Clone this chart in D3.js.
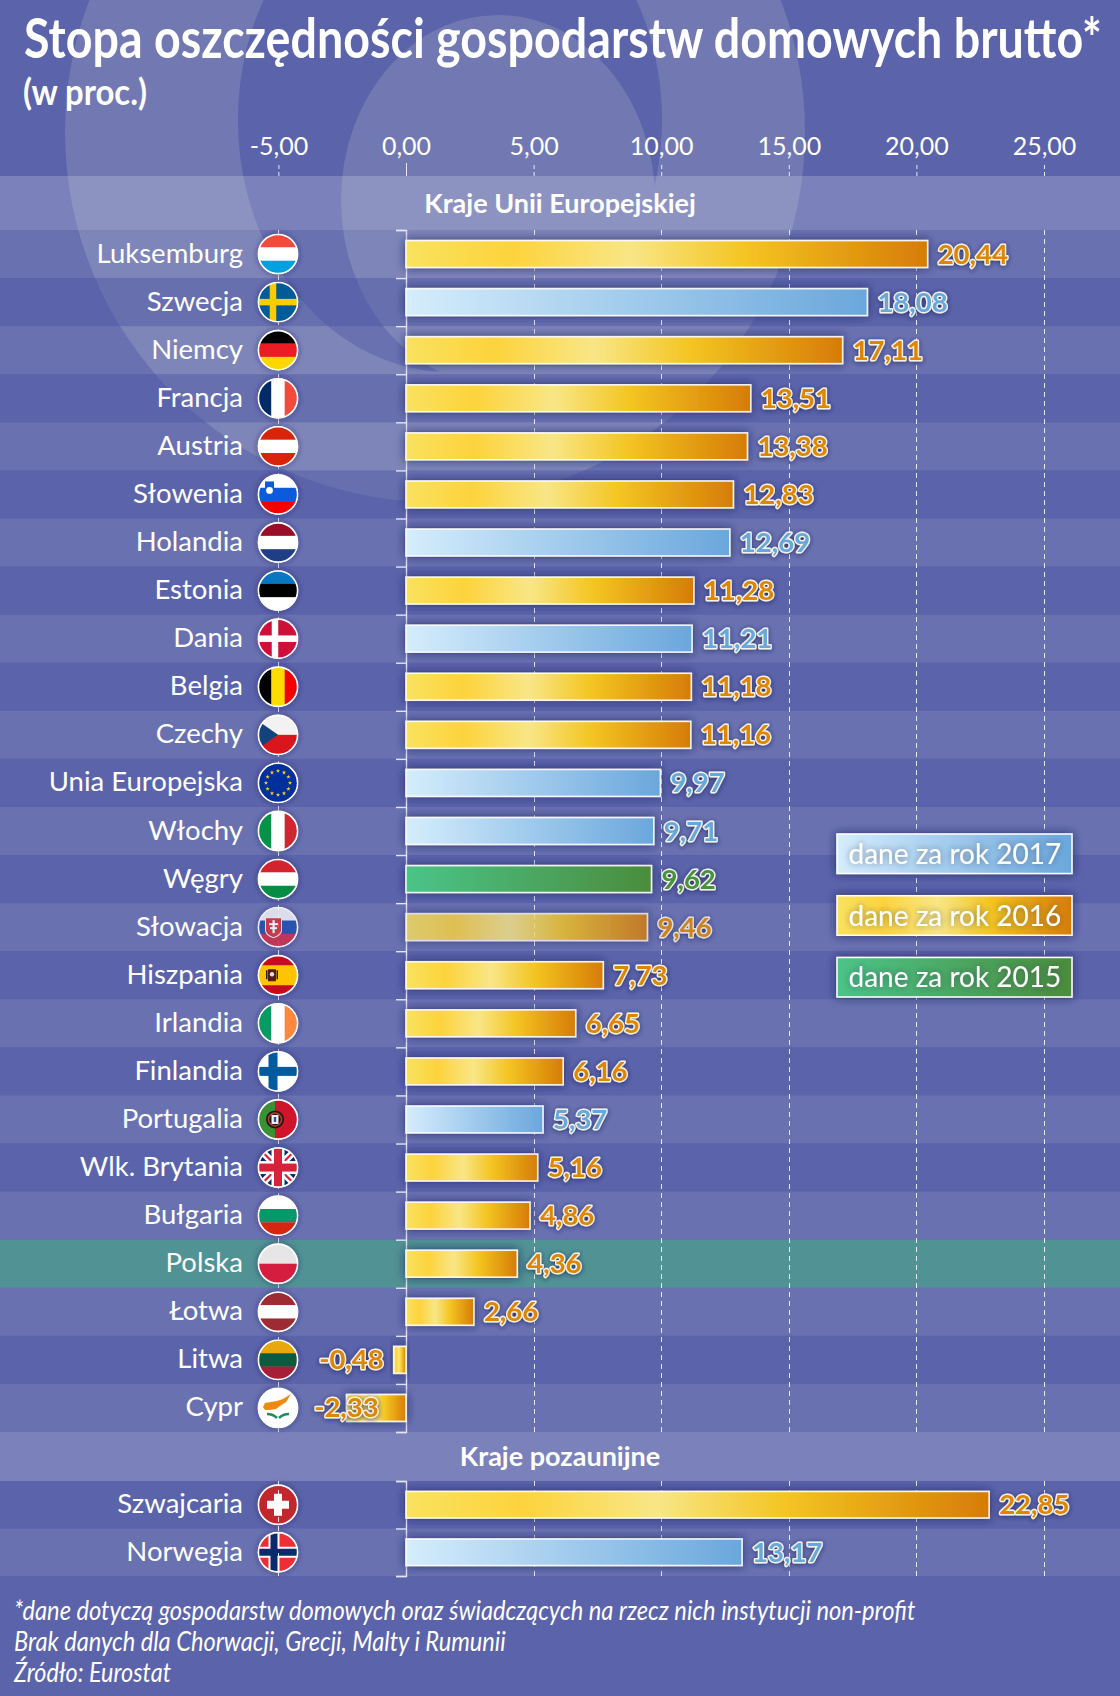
<!DOCTYPE html>
<html lang="pl">
<head>
<meta charset="utf-8">
<script src="https://cdnjs.cloudflare.com/ajax/libs/d3/7.8.5/d3.min.js"></script>
<style>
    html, body { margin: 0; padding: 0; background: #5b63aa; }
    svg { display: block; }
    text { font-family: Lato, sans-serif; fill: #fff; }
</style>
</head>
<body>
<div id="chart"></div>
<script>
// data
const euCountries = ['Luksemburg', 'Szwecja', 'Niemcy', 'Francja', 'Austria', 'Słowenia', 'Holandia', 'Estonia', 'Dania', 'Belgia', 'Czechy', 'Unia Europejska', 'Włochy', 'Węgry', 'Słowacja', 'Hiszpania', 'Irlandia', 'Finlandia', 'Portugalia', 'Wlk. Brytania', 'Bułgaria', 'Polska', 'Łotwa', 'Litwa', 'Cypr'];
const euValues = [20.44, 18.08, 17.11, 13.51, 13.38, 12.83, 12.69, 11.28, 11.21, 11.18, 11.16, 9.97, 9.71, 9.62, 9.46, 7.73, 6.65, 6.16, 5.37, 5.16, 4.86, 4.36, 2.66, -0.48, -2.33];
const euYears = [2016, 2017, 2016, 2016, 2016, 2016, 2017, 2016, 2017, 2016, 2016, 2017, 2017, 2015, 2016, 2016, 2016, 2016, 2017, 2016, 2016, 2016, 2016, 2016, 2016];
const otherCountries = ['Szwajcaria', 'Norwegia'];
const otherValues = [22.85, 13.17];
const otherYears = [2016, 2017];
const axisTicks = [-5, 0, 5, 10, 15, 20, 25];
const legendYears = [2017, 2016, 2015];
const titleText = 'Stopa oszczędności gospodarstw domowych brutto*';
const subtitleText = '(w proc.)';
const euHeader = 'Kraje Unii Europejskiej';
const otherHeader = 'Kraje pozaunijne';
const footnotes = [
    '*dane dotyczą gospodarstw domowych oraz świadczących na rzecz nich instytucji non-profit',
    'Brak danych dla Chorwacji, Grecji, Malty i Rumunii',
    'Źródło: Eurostat'
];

const width = 1120;
const height = 1696;
const bg = '#5b63aa';
const ringColor = '#7279b2';

const yearColors = {
    2015: { text: '#45933f', stops: [[0, '#4cc488'], [1, '#4c8c3c']] },
    2016: { text: '#df8504', stops: [[0, '#f9e25f'], [0.2, '#fdd33c'], [0.43, '#f8e686'], [0.65, '#f4c522'], [1, '#d67c05']] },
    2017: { text: '#66a8dc', stops: [[0, '#d5edfc'], [1, '#6aa7dc']] }
};

const x = d3.scaleLinear().domain([0, 25]).range([406, 1044]);
const euY = d3.scaleBand().domain(euCountries).range([230, 1432]).paddingInner(0.44).paddingOuter(0.22);
const otherY = d3.scaleBand().domain(otherCountries).range([1481, 1576]).paddingInner(0.44).paddingOuter(0.22);
// the source uses a plain hyphen, not d3's minus sign
const fmt = (v) => d3.format('.2f')(v).replace('.', ',').replace('\u2212', '-');

const euRows = euCountries.map((name, i) => ({ name, value: euValues[i], year: euYears[i], y: euY, i }));
const otherRows = otherCountries.map((name, i) => ({ name, value: otherValues[i], year: otherYears[i], y: otherY, i: i + 1 }));
const allRows = euRows.concat(otherRows);
const rowMid = (d) => d.y(d.name) + d.y.bandwidth() / 2;

const svg = d3.select('#chart').append('svg')
    .attr('width', width)
    .attr('height', height)
    .attr('viewBox', `0 0 ${width} ${height}`);

// gradients + shadows
const defs = svg.append('defs');
Object.keys(yearColors).forEach((year) => {
    defs.append('linearGradient').attr('id', `grad${year}`)
        .selectAll('stop').data(yearColors[year].stops).enter().append('stop')
        .attr('offset', d => d[0])
        .attr('stop-color', d => d[1]);
});
const shadow = (id, blur, color, opacity, dy) => {
    const f = defs.append('filter').attr('id', id)
        .attr('x', '-30%').attr('y', '-60%').attr('width', '160%').attr('height', '220%');
    f.append('feDropShadow')
        .attr('dx', 0).attr('dy', dy).attr('stdDeviation', blur)
        .attr('flood-color', color).attr('flood-opacity', opacity);
};
shadow('barShadow', 5, '#1f2358', 0.8, 0);
shadow('flagShadow', 3, '#1f2358', 0.6, 0);
shadow('valueShadow', 2.5, '#1f2358', 0.75, 1);
shadow('legendText', 3, '#2a2f50', 0.55, 0);
defs.append('clipPath').attr('id', 'flagClip').append('circle').attr('r', 19.5);

// background logo shape
const back = svg.append('g');
back.append('rect').attr('width', width).attr('height', height).attr('fill', bg);
back.append('circle').attr('cx', 435).attr('cy', 132).attr('r', 370).attr('fill', ringColor);
back.append('ellipse').attr('cx', 450).attr('cy', 120).attr('rx', 212).attr('ry', 252).attr('fill', bg);
back.append('ellipse').attr('cx', 498).attr('cy', 200).attr('rx', 157).attr('ry', 185).attr('fill', ringColor);

// row bands
const bands = svg.append('g');
const bandFill = (d) => (d.name === 'Polska' ? '#519295' : (d.i % 2 === 0 ? '#fff' : bg));
const bandOpacity = (d) => (d.name === 'Polska' ? 1 : (d.i % 2 === 0 ? 0.09 : 0.45));
bands.selectAll('rect.row').data(allRows).enter().append('rect')
    .attr('class', 'row')
    .attr('x', 0).attr('width', width)
    .attr('y', d => d.y(d.name) - d.y.step() * 0.22)
    .attr('height', d => d.y.step())
    .attr('fill', bandFill)
    .attr('fill-opacity', bandOpacity);
const headers = [{ text: euHeader, y0: 176, y1: 230 }, { text: otherHeader, y0: 1432, y1: 1481 }];
bands.selectAll('rect.head').data(headers).enter().append('rect')
    .attr('class', 'head')
    .attr('x', 0).attr('width', width)
    .attr('y', d => d.y0).attr('height', d => d.y1 - d.y0)
    .attr('fill', '#fff').attr('fill-opacity', 0.195);

const gridLines = (parent, y0, y1) => parent.append('g').selectAll('line')
    .data(axisTicks.filter(d => d !== 0)).enter().append('line')
    .attr('x1', d => Math.round(x(d)) + 0.5).attr('x2', d => Math.round(x(d)) + 0.5)
    .attr('y1', y0).attr('y2', y1)
    .attr('stroke', '#fff').attr('stroke-opacity', 0.85)
    .attr('stroke-dasharray', '5,4');
gridLines(svg, 230, 1432);

// flags
const stripesH = {
    'Luksemburg': ['#f44a3c', '#fff', '#00a1de'], 'Niemcy': ['#000', '#ed1c24', '#ffd700'],
    'Austria': ['#d9230a', '#fff', '#d9230a'], 'Holandia': ['#9b0e27', '#fff', '#203e86'],
    'Estonia': ['#0677c0', '#000', '#fff'], 'Węgry': ['#d2232f', '#fff', '#078c46'],
    'Bułgaria': ['#fff', '#069869', '#d62612'], 'Łotwa': ['#9e2a33', '#fff', '#9e2a33'],
    'Litwa': ['#e8a80d', '#0d5b3f', '#a71f36'], 'Słowenia': ['#fff', '#0a5cdc', '#f40000'],
    'Słowacja': ['#ecedf2', '#2350ad', '#c9304e'], 'Polska': ['#e6e6e6', '#d51e3f']
};
const stripesV = {
    'Francja': ['#012b66', '#fff', '#f44a3c'], 'Belgia': ['#000', '#ffdc00', '#f40000'],
    'Włochy': ['#069149', '#fff', '#d12630'], 'Irlandia': ['#079a63', '#fff', '#ff883e']
};
// base colour, cross colour, inner cross colour, cross x, cross width
const crosses = {
    'Szwecja': ['#005b99', '#fecb00', null, -5, 6.5], 'Dania': ['#cf0f39', '#fff', null, -3, 6.5],
    'Finlandia': ['#fff', '#005b9e', null, -5, 9], 'Norwegia': ['#ee2e36', '#fff', '#0b2a6c', -4, 11]
};

const drawFlag = (g, name) => {
    const rect = (px, py, w, h, fill) => g.append('rect').attr('x', px).attr('y', py).attr('width', w).attr('height', h).attr('fill', fill);
    const poly = (d, fill) => g.append('path').attr('d', d).attr('fill', fill);
    if (stripesH[name]) {
        const s = stripesH[name];
        s.forEach((c, i) => rect(-20, -20 + i * 40 / s.length, 40, 40 / s.length + 0.3, c));
    } else if (stripesV[name]) {
        const s = stripesV[name];
        s.forEach((c, i) => rect(-20 + i * 40 / s.length, -20, 40 / s.length + 0.3, 40, c));
    } else if (crosses[name]) {
        const [base, cross, inner, cx, w] = crosses[name];
        rect(-20, -20, 40, 40, base);
        rect(cx - w / 2, -20, w, 40, cross);
        rect(-20, -w / 2, 40, w, cross);
        if (inner) {
            rect(cx - 3.5, -20, 7, 40, inner);
            rect(-20, -3.5, 40, 7, inner);
        }
    }
    if (name === 'Słowenia') {
        rect(-13, -13, 9, 11, '#0a5cdc');
        g.append('circle').attr('cx', -8.5).attr('cy', -4).attr('r', 3.4).attr('fill', '#fff');
    } else if (name === 'Słowacja') {
        poly('M-13,-10H4V3Q4,8 -4.5,11Q-13,8 -13,3Z', '#f1f1f4');
        poly('M-12,-9H3V3Q3,7 -4.5,10Q-12,7 -12,3Z', '#d9303e');
        rect(-5.5, -7, 2.2, 13, '#fff');
        rect(-9, -4, 9, 2, '#fff');
        rect(-8, 0, 7, 2, '#fff');
    } else if (name === 'Czechy') {
        rect(-20, -20, 40, 20, '#f2f2f2');
        rect(-20, 0, 40, 20, '#d9161e');
        poly('M-20,-14L0,0L-20,14Z', '#14427c');
    } else if (name === 'Unia Europejska') {
        rect(-20, -20, 40, 40, '#012f9b');
        const star = d3.symbol().type(d3.symbolStar).size(6);
        d3.range(12).forEach((k) => {
            const a = k * Math.PI / 6;
            g.append('path').attr('d', star())
                .attr('transform', `translate(${12 * Math.sin(a)},${-12 * Math.cos(a)})`)
                .attr('fill', '#ffd21f');
        });
    } else if (name === 'Hiszpania') {
        rect(-20, -20, 40, 40, '#c60b1e');
        rect(-20, -10, 40, 20, '#ffc400');
        rect(-10, -6, 8, 12, '#5a1a12');
        g.append('circle').attr('cx', -6).attr('cy', -1).attr('r', 2.2).attr('fill', '#ddd');
        rect(-12, -5, 1.5, 9, '#222');
        rect(-1.5, -5, 1.5, 9, '#222');
    } else if (name === 'Portugalia') {
        rect(-20, -20, 17, 40, '#3b8f35');
        rect(-3, -20, 23, 40, '#cf142b');
        g.append('circle').attr('r', 9).attr('cx', -3).attr('fill', '#1b1b14');
        g.append('circle').attr('r', 6.5).attr('cx', -3).attr('fill', 'none').attr('stroke', '#c8382c').attr('stroke-width', 1.5);
        rect(-6.5, -4.5, 7, 9, '#eef2fa');
        rect(-4.2, -2.5, 2.4, 5, '#2a56a8');
    } else if (name === 'Wlk. Brytania') {
        rect(-20, -20, 40, 40, '#0b2a6c');
        g.append('path').attr('d', 'M-20,-20L20,20M20,-20L-20,20').attr('stroke', '#fff').attr('stroke-width', 7);
        g.append('path').attr('d', 'M-20,-20L20,20M20,-20L-20,20').attr('stroke', '#d8213a').attr('stroke-width', 2.2);
        rect(-6.5, -20, 13, 40, '#fff');
        rect(-20, -6.5, 40, 13, '#fff');
        rect(-4, -20, 8, 40, '#d8213a');
        rect(-20, -4, 40, 8, '#d8213a');
    } else if (name === 'Szwajcaria') {
        rect(-20, -20, 40, 40, '#c2272d');
        rect(-4, -11, 8, 22, '#fff');
        rect(-11, -4, 22, 8, '#fff');
    } else if (name === 'Cypr') {
        rect(-20, -20, 40, 40, '#fff');
        poly('M-15,-1L-13,-5L-7,-6L-1,-7L5,-9L13,-14L8,-6L2,-2L-2,1L-8,2L-13,2Z', '#ef8a10');
        g.append('path').attr('d', 'M-1,10Q-5,6 -11,6M1,10Q5,6 11,6').attr('fill', 'none').attr('stroke', '#1f8a63').attr('stroke-width', 2.6);
    }
};

svg.append('g').selectAll('g').data(allRows).enter().append('g')
    .attr('transform', d => `translate(278,${rowMid(d)})`)
    .attr('opacity', d => (d.name === 'Słowacja' ? 0.88 : 1))
    .each(function (d) {
        const node = d3.select(this);
        node.append('circle').attr('r', 20).attr('fill', '#fff').attr('filter', 'url(#flagShadow)');
        const inner = node.append('g').attr('clip-path', 'url(#flagClip)');
        drawFlag(inner, d.name);
        node.append('circle').attr('r', 19.6).attr('fill', 'none').attr('stroke', '#fff').attr('stroke-width', 1.6);
    });

gridLines(svg, 1481, 1576);

// top axis
const topAxis = svg.append('g')
    .attr('transform', 'translate(0,176)')
    .call(d3.axisTop(x).tickValues(axisTicks).tickFormat(fmt).tickSize(13).tickPadding(8));
topAxis.select('.domain').remove();
topAxis.selectAll('line')
    .attr('stroke', '#fff').attr('stroke-opacity', 0.85)
    .attr('stroke-dasharray', d => (d === 0 ? null : '4,3'));
topAxis.selectAll('text')
    .attr('fill', '#fff')
    .style('font-family', 'Lato, sans-serif')
    .style('font-size', '25px');

// bracket axes on the zero line
const bracket = (y0, y1, n) => {
    const edges = d3.scaleLinear().domain([0, n]).range([y0, y1]);
    const a = svg.append('g')
        .attr('transform', `translate(${x(0)},0)`)
        .call(d3.axisLeft(edges).tickValues(d3.range(n + 1)).tickFormat('').tickSize(10));
    a.selectAll('path, line').attr('stroke', '#e4e6f2').attr('stroke-width', 1.4);
};
bracket(230, 1432, euCountries.length);
bracket(1481, 1576, otherCountries.length);

// bars
const barOpacity = (d) => (d.name === 'Słowacja' ? 0.8 : 1);
svg.append('g').selectAll('rect').data(allRows).enter().append('rect')
    .attr('x', d => x(Math.min(0, d.value)))
    .attr('y', d => d.y(d.name))
    .attr('width', d => Math.abs(x(d.value) - x(0)))
    .attr('height', d => d.y.bandwidth())
    .attr('fill', d => `url(#grad${d.year})`)
    .attr('stroke', '#fff').attr('stroke-opacity', 0.9).attr('stroke-width', 1.6)
    .attr('opacity', barOpacity)
    .attr('filter', 'url(#barShadow)');

// country labels
svg.append('g').selectAll('text').data(allRows).enter().append('text')
    .attr('x', 243)
    .attr('y', d => rowMid(d) + 8.5)
    .attr('text-anchor', 'end')
    .style('font-size', '27.5px')
    .text(d => d.name);

// value labels (negative ones hug the axis)
svg.append('g').selectAll('text').data(allRows).enter().append('text')
    .attr('x', d => (d.value < 0 ? x(0) - 21 + 2.7 * d.value : x(d.value) + 10))
    .attr('y', d => rowMid(d) + 9.5)
    .attr('text-anchor', d => (d.value < 0 ? 'end' : 'start'))
    .style('font-size', '27.5px')
    .style('font-weight', 700)
    .style('paint-order', 'stroke')
    .style('fill', d => yearColors[d.year].text)
    .attr('stroke', '#f4f2ea').attr('stroke-width', 2.8).attr('stroke-linejoin', 'round')
    .attr('opacity', d => (d.name === 'Słowacja' ? 0.85 : 1))
    .attr('filter', 'url(#valueShadow)')
    .text(d => fmt(d.value));

// section headers
svg.append('g').selectAll('text').data(headers).enter().append('text')
    .attr('x', 560)
    .attr('y', d => (d.y0 + d.y1) / 2 + 9.5)
    .attr('text-anchor', 'middle')
    .style('font-size', '27px')
    .style('font-weight', 700)
    .text(d => d.text);

// legend
const legendY = d3.scaleBand().domain(legendYears).range([834, 997]).paddingInner(0.36);
const legend = svg.append('g').selectAll('g').data(legendYears).enter().append('g');
legend.append('rect')
    .attr('x', 837).attr('width', 235)
    .attr('y', d => legendY(d)).attr('height', legendY.bandwidth())
    .attr('fill', d => `url(#grad${d})`)
    .attr('stroke', '#fff').attr('stroke-width', 1.5)
    .attr('filter', 'url(#barShadow)');
legend.append('text')
    .attr('x', 848.5)
    .attr('y', d => legendY(d) + legendY.bandwidth() / 2 + 10)
    .style('font-size', '28px')
    .attr('filter', 'url(#legendText)')
    .text(d => `dane za rok ${d}`);

// squeeze a text horizontally to the width it has in the source
const fitted = (px, py, str, size, weight, style, targetWidth) => {
    const t = svg.append('text')
        .style('font-size', `${size}px`)
        .style('font-weight', weight)
        .style('font-style', style)
        .text(str);
    const natural = t.node().getComputedTextLength();
    t.attr('transform', `translate(${px},${py}) scale(${targetWidth / natural},1)`);
};

// title + notes
fitted(24, 58, titleText, 55, 700, 'normal', 1078);
fitted(23, 105, subtitleText, 36, 700, 'normal', 124);
const noteWidths = [902, 492, 157];
footnotes.forEach((note, i) => fitted(14, 1620 + i * 31, note, 26.5, 400, 'italic', noteWidths[i]));
</script>
</body>
</html>
